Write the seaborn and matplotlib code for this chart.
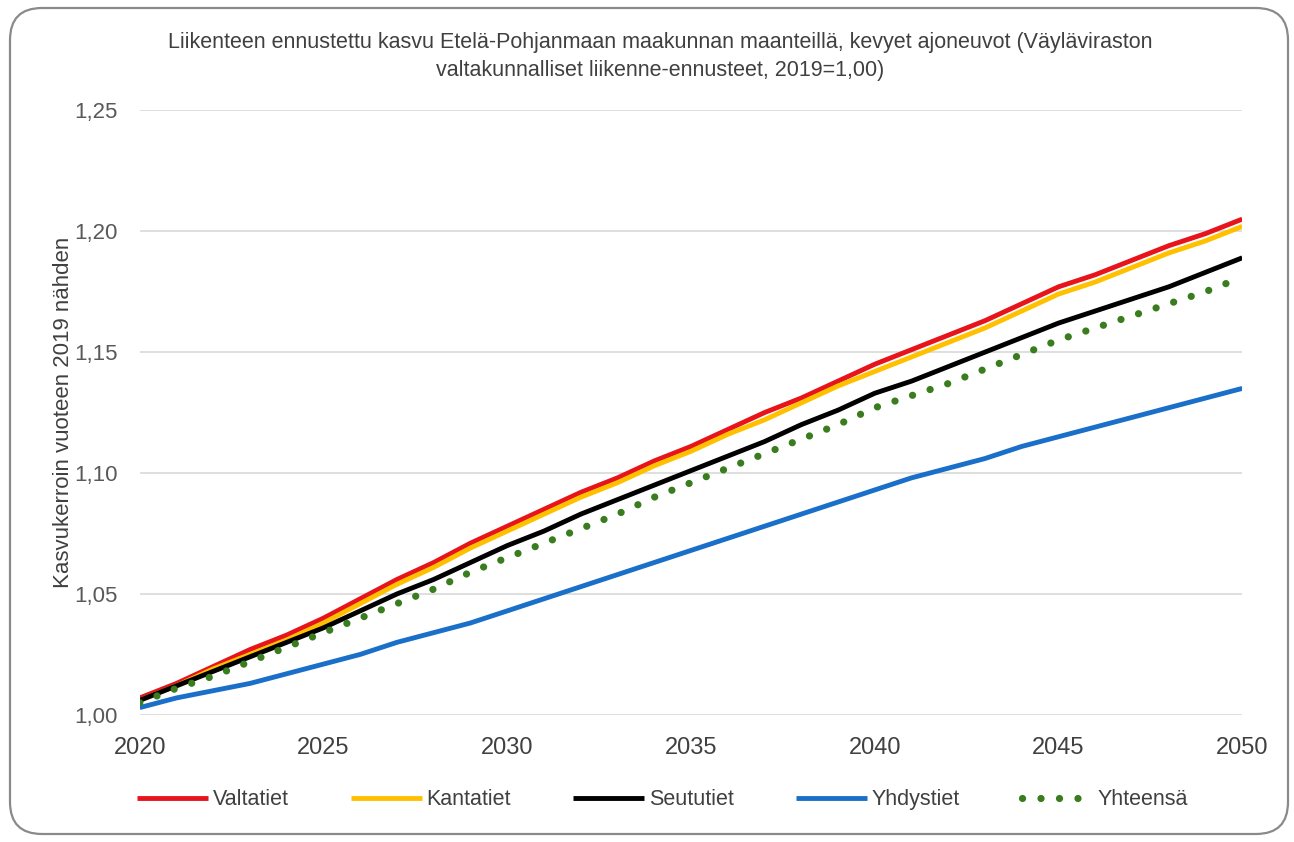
import numpy as np
import pandas as pd
import matplotlib
matplotlib.use("Agg")
import matplotlib.pyplot as plt
from matplotlib.patches import FancyBboxPatch
from matplotlib.ticker import FuncFormatter, MultipleLocator
import seaborn as sns

years = list(range(2020, 2051))
valtatiet = [1.007, 1.013, 1.020, 1.027, 1.033, 1.040, 1.048, 1.056, 1.063, 1.071,
             1.078, 1.085, 1.092, 1.098, 1.105, 1.111, 1.118, 1.125, 1.131, 1.138,
             1.145, 1.151, 1.157, 1.163, 1.170, 1.177, 1.182, 1.188, 1.194, 1.199, 1.205]
kantatiet = [1.006, 1.012, 1.019, 1.025, 1.031, 1.038, 1.046, 1.054, 1.061, 1.069,
             1.076, 1.083, 1.090, 1.096, 1.103, 1.109, 1.116, 1.122, 1.129, 1.136,
             1.142, 1.148, 1.154, 1.160, 1.167, 1.174, 1.179, 1.185, 1.191, 1.196, 1.202]
seututiet = [1.006, 1.012, 1.018, 1.024, 1.030, 1.036, 1.043, 1.050, 1.056, 1.063,
             1.070, 1.076, 1.083, 1.089, 1.095, 1.101, 1.107, 1.113, 1.120, 1.126,
             1.133, 1.138, 1.144, 1.150, 1.156, 1.162, 1.167, 1.172, 1.177, 1.183, 1.189]
yhdystiet = [1.003, 1.007, 1.010, 1.013, 1.017, 1.021, 1.025, 1.030, 1.034, 1.038,
             1.043, 1.048, 1.053, 1.058, 1.063, 1.068, 1.073, 1.078, 1.083, 1.088,
             1.093, 1.098, 1.102, 1.106, 1.111, 1.115, 1.119, 1.123, 1.127, 1.131, 1.135]
yhteensa = [1.005, 1.011, 1.016, 1.022, 1.028, 1.034, 1.040, 1.046, 1.052, 1.059,
            1.065, 1.071, 1.077, 1.083, 1.090, 1.096, 1.102, 1.108, 1.114, 1.120,
            1.127, 1.132, 1.137, 1.143, 1.149, 1.155, 1.160, 1.165, 1.170, 1.175, 1.181]

series_names = ["Valtatiet", "Kantatiet", "Seututiet", "Yhdystiet", "Yhteensä"]
series_values = [valtatiet, kantatiet, seututiet, yhdystiet, yhteensa]
colors = ["#e8141b", "#ffc000", "#000000", "#1a6fc9", "#3a7d1e"]

title = ("Liikenteen ennustettu kasvu Etelä-Pohjanmaan maakunnan maanteillä, kevyet ajoneuvot (Väyläviraston\n"
         "valtakunnalliset liikenne-ennusteet, 2019=1,00)")
ylabel = "Kasvukerroin vuoteen 2019 nähden"
xticks = [2020, 2025, 2030, 2035, 2040, 2045, 2050]

sns.set_theme(style="white")
plt.rcParams['font.family'] = ['Liberation Sans', 'DejaVu Sans']

fig = plt.figure(figsize=(12.94, 8.42), dpi=100)
ax = fig.add_axes([0.108, 0.151, 0.852, 0.718])

df = pd.DataFrame({"year": years * len(series_names),
                   "value": sum(series_values, []),
                   "series": sum([[n] * len(years) for n in series_names], [])})

for name, col in zip(series_names, colors):
    sub = df[df["series"] == name]
    before = len(ax.lines)
    sns.lineplot(data=sub, x="year", y="value", ax=ax, color=col, label=name,
                 linewidth=3.5, legend=False)
    line = ax.lines[before]
    if name == "Yhteensä":
        line.set_linewidth(5.2)
        line.set_dashes((0.01, 2.55))
        line.set_dash_capstyle("round")
    else:
        line.set_solid_capstyle("butt")

ax.set_xlim(2020, 2050)
ax.set_ylim(1.0, 1.25)
ax.yaxis.set_major_locator(MultipleLocator(0.05))
ax.set_xticks(xticks)
ax.yaxis.set_major_formatter(FuncFormatter(lambda v, p: f"{v:.2f}".replace(".", ",")))
ax.grid(axis="y", color="#d9d9d9", linewidth=1.2)
ax.grid(axis="x", visible=False)
ax.set_axisbelow(True)
for s in ax.spines.values():
    s.set_visible(False)
ax.tick_params(axis="both", length=0)
ax.tick_params(axis="y", pad=16, labelsize=16, labelcolor="#595959")
ax.tick_params(axis="x", pad=16, labelsize=17, labelcolor="#404040")
ax.set_xlabel("")
ax.set_ylabel(ylabel, fontsize=16, color="#404040", labelpad=0)

fig.text(0.51, 0.962, title, ha="center", va="top", fontsize=15.5, color="#404040",
         linespacing=1.45)

handles = ax.get_lines()
leg = fig.legend(handles, series_names, loc="center", bbox_to_anchor=(0.512, 0.05), ncol=5,
                 frameon=False, handlelength=3.3, handletextpad=0.2,
                 columnspacing=2.9, prop={'size': 15.5})
for t in leg.get_texts():
    t.set_color("#404040")

border = FancyBboxPatch((10, 8), 1278, 826, boxstyle="round,pad=0,rounding_size=32",
                        transform=None, facecolor="none", edgecolor="#8a8a8a",
                        linewidth=1.6)
fig.patches.append(border)

fig.savefig("out.png", dpi=100)
